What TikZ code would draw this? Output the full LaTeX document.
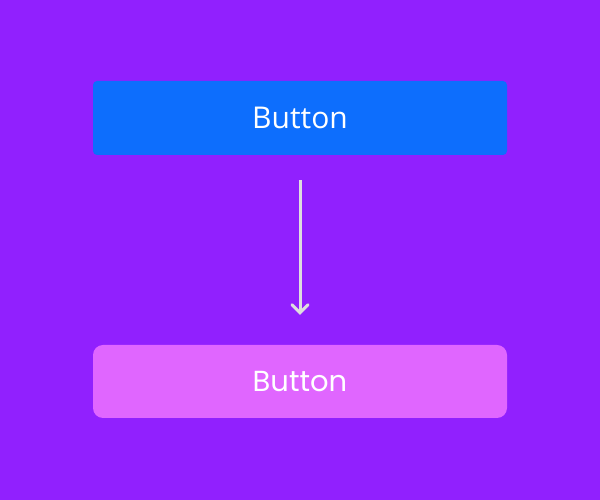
\documentclass[tikz,border=0pt]{standalone}
\usepackage{fontspec}
\setmainfont{Open Sans}
\newfontfamily\handfont{Poppins}
\usetikzlibrary{arrows.meta,positioning}
\definecolor{bgpurple}{HTML}{9120FE}
\definecolor{btnblue}{HTML}{0D6EFD}
\definecolor{btnpink}{HTML}{E066FF}
\definecolor{arrowgrey}{HTML}{DEDEDE}

\begin{document}
\begin{tikzpicture}[x=1pt, y=1pt]
   \fill[bgpurple] (0,0) rectangle (600,500);
   \useasboundingbox (0,0) rectangle (600,500);
   \begin{scope}[every node/.style={minimum width=414pt, text=white, inner sep=0pt}]
    \node (btn1) [fill=btnblue, rounded corners=4pt, minimum height=74pt, font=\fontsize{30}{36}\selectfont] at (300,382) {Button};
    \node (btn2) [fill=btnpink, rounded corners=10pt, minimum height=73pt, font=\handfont\fontsize{29}{34}\selectfont] at (300,118.5) {Button};
   \end{scope}
   \begin{scope}[-{Straight Barb[length=8pt, width=16pt, line cap=round]}, arrowgrey, line width=3pt]
    \draw[shorten <=25pt, shorten >=30pt] (btn1) -- (btn2);
   \end{scope}
\end{tikzpicture}
\end{document}
